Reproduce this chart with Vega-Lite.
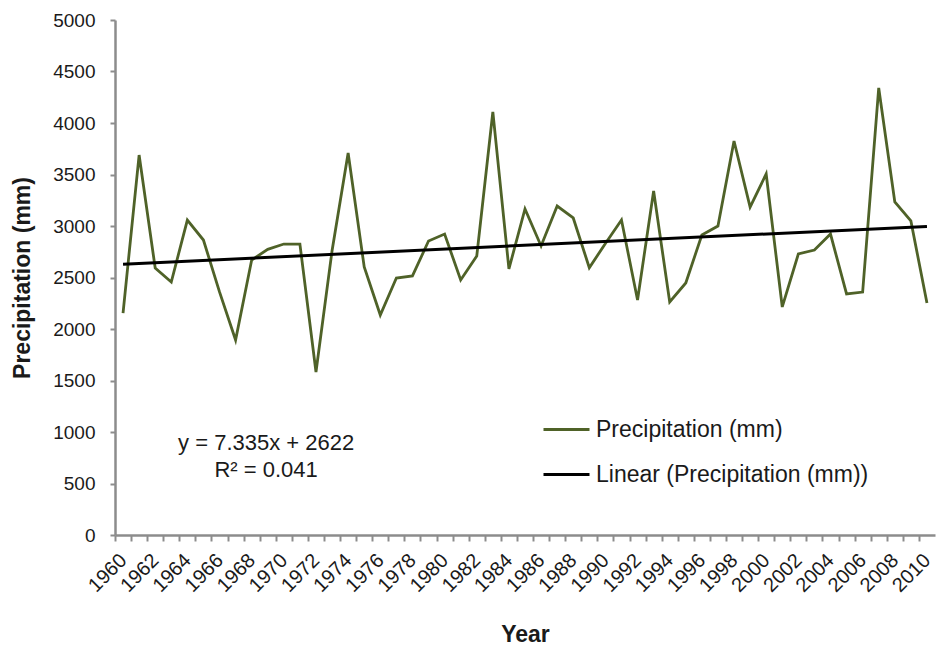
{
  "$schema": "https://vega.github.io/schema/vega-lite/v6.json",
  "width": 820,
  "height": 515,
  "autosize": {"type": "none"},
  "padding": {"left": 115, "top": 20, "right": 1, "bottom": 116},
  "background": "white",
  "config": {"view": {"stroke": null}, "font": "Liberation Sans"},
  "datasets": {
    "precip": [
      {"year": 1960, "value": 2155, "series": "Precipitation (mm)"},
      {"year": 1961, "value": 3689, "series": "Precipitation (mm)"},
      {"year": 1962, "value": 2592, "series": "Precipitation (mm)"},
      {"year": 1963, "value": 2456, "series": "Precipitation (mm)"},
      {"year": 1964, "value": 3058, "series": "Precipitation (mm)"},
      {"year": 1965, "value": 2864, "series": "Precipitation (mm)"},
      {"year": 1966, "value": 2360, "series": "Precipitation (mm)"},
      {"year": 1967, "value": 1893, "series": "Precipitation (mm)"},
      {"year": 1968, "value": 2670, "series": "Precipitation (mm)"},
      {"year": 1969, "value": 2773, "series": "Precipitation (mm)"},
      {"year": 1970, "value": 2825, "series": "Precipitation (mm)"},
      {"year": 1971, "value": 2825, "series": "Precipitation (mm)"},
      {"year": 1972, "value": 1583, "series": "Precipitation (mm)"},
      {"year": 1973, "value": 2760, "series": "Precipitation (mm)"},
      {"year": 1974, "value": 3709, "series": "Precipitation (mm)"},
      {"year": 1975, "value": 2602, "series": "Precipitation (mm)"},
      {"year": 1976, "value": 2136, "series": "Precipitation (mm)"},
      {"year": 1977, "value": 2495, "series": "Precipitation (mm)"},
      {"year": 1978, "value": 2515, "series": "Precipitation (mm)"},
      {"year": 1979, "value": 2854, "series": "Precipitation (mm)"},
      {"year": 1980, "value": 2922, "series": "Precipitation (mm)"},
      {"year": 1981, "value": 2476, "series": "Precipitation (mm)"},
      {"year": 1982, "value": 2709, "series": "Precipitation (mm)"},
      {"year": 1983, "value": 4107, "series": "Precipitation (mm)"},
      {"year": 1984, "value": 2583, "series": "Precipitation (mm)"},
      {"year": 1985, "value": 3165, "series": "Precipitation (mm)"},
      {"year": 1986, "value": 2806, "series": "Precipitation (mm)"},
      {"year": 1987, "value": 3194, "series": "Precipitation (mm)"},
      {"year": 1988, "value": 3078, "series": "Precipitation (mm)"},
      {"year": 1989, "value": 2595, "series": "Precipitation (mm)"},
      {"year": 1990, "value": 2830, "series": "Precipitation (mm)"},
      {"year": 1991, "value": 3058, "series": "Precipitation (mm)"},
      {"year": 1992, "value": 2282, "series": "Precipitation (mm)"},
      {"year": 1993, "value": 3340, "series": "Precipitation (mm)"},
      {"year": 1994, "value": 2262, "series": "Precipitation (mm)"},
      {"year": 1995, "value": 2447, "series": "Precipitation (mm)"},
      {"year": 1996, "value": 2913, "series": "Precipitation (mm)"},
      {"year": 1997, "value": 3000, "series": "Precipitation (mm)"},
      {"year": 1998, "value": 3825, "series": "Precipitation (mm)"},
      {"year": 1999, "value": 3184, "series": "Precipitation (mm)"},
      {"year": 2000, "value": 3505, "series": "Precipitation (mm)"},
      {"year": 2001, "value": 2214, "series": "Precipitation (mm)"},
      {"year": 2002, "value": 2728, "series": "Precipitation (mm)"},
      {"year": 2003, "value": 2767, "series": "Precipitation (mm)"},
      {"year": 2004, "value": 2922, "series": "Precipitation (mm)"},
      {"year": 2005, "value": 2340, "series": "Precipitation (mm)"},
      {"year": 2006, "value": 2359, "series": "Precipitation (mm)"},
      {"year": 2007, "value": 4340, "series": "Precipitation (mm)"},
      {"year": 2008, "value": 3233, "series": "Precipitation (mm)"},
      {"year": 2009, "value": 3049, "series": "Precipitation (mm)"},
      {"year": 2010, "value": 2252, "series": "Precipitation (mm)"}
    ],
    "trend": [
      {"year": 1960, "value": 2629, "series": "Linear (Precipitation (mm))"},
      {"year": 2010, "value": 2996, "series": "Linear (Precipitation (mm))"}
    ],
    "note": [
      {"year": 1968.9, "value": 890, "label": "y = 7.335x + 2622|R² = 0.041"}
    ]
  },
  "encoding": {
    "x": {
      "field": "year",
      "type": "quantitative",
      "scale": {"domain": [1959.5, 2010.5], "nice": false, "zero": false},
      "axis": {
        "title": "Year",
        "values": [1960,1961,1962,1963,1964,1965,1966,1967,1968,1969,1970,1971,1972,1973,1974,1975,1976,1977,1978,1979,1980,1981,1982,1983,1984,1985,1986,1987,1988,1989,1990,1991,1992,1993,1994,1995,1996,1997,1998,1999,2000,2001,2002,2003,2004,2005,2006,2007,2008,2009,2010,2011],
        "format": "d",
        "labelExpr": "(datum.value % 2 == 0 && datum.value <= 2010) ? datum.label : ''",
        "tickOffset": -8.04,
        "labelOffset": 8.04,
        "labelAngle": -45,
        "labelAlign": "right",
        "labelBaseline": "middle",
        "labelFontSize": 20,
        "labelColor": "#1a1a1a",
        "labelPadding": 16,
        "labelOverlap": false,
        "labelFlush": false,
        "labelBound": false,
        "tickSize": 6,
        "tickWidth": 2,
        "tickColor": "#8c8c8c",
        "domainColor": "#8c8c8c",
        "domainWidth": 2.5,
        "grid": false,
        "titleFontSize": 23,
        "titleFontWeight": "bold",
        "titleColor": "#1a1a1a",
        "titlePadding": 28
      }
    },
    "y": {
      "field": "value",
      "type": "quantitative",
      "scale": {"domain": [0, 5000], "nice": false},
      "axis": {
        "title": "Precipitation (mm)",
        "values": [0,500,1000,1500,2000,2500,3000,3500,4000,4500,5000],
        "format": "d",
        "labelFontSize": 19,
        "labelColor": "#1a1a1a",
        "labelPadding": 15,
        "tickSize": 5,
        "tickWidth": 2,
        "tickColor": "#8c8c8c",
        "domainColor": "#8c8c8c",
        "domainWidth": 2.5,
        "grid": false,
        "titleFontSize": 23,
        "titleFontWeight": "bold",
        "titleColor": "#1a1a1a",
        "titlePadding": 18
      }
    }
  },
  "layer": [
    {
      "data": {"name": "precip"},
      "mark": {"type": "line", "strokeWidth": 2.8},
      "encoding": {
        "color": {
          "field": "series",
          "type": "nominal",
          "scale": {
            "domain": ["Precipitation (mm)", "Linear (Precipitation (mm))"],
            "range": ["#4f6228", "#000000"]
          },
          "legend": {
            "orient": "none",
            "legendX": 427,
            "legendY": 385,
            "title": null,
            "symbolType": "stroke",
            "symbolSize": 2116,
            "symbolStrokeWidth": 3,
            "labelFontSize": 23,
            "labelColor": "#1a1a1a",
            "labelOffset": 5,
            "labelLimit": 600,
            "rowPadding": 8,
            "padding": 0
          }
        }
      }
    },
    {
      "data": {"name": "trend"},
      "mark": {"type": "line", "strokeWidth": 3},
      "encoding": {
        "color": {
          "field": "series",
          "type": "nominal",
          "scale": {
            "domain": ["Precipitation (mm)", "Linear (Precipitation (mm))"],
            "range": ["#4f6228", "#000000"]
          },
          "legend": {
            "orient": "none",
            "legendX": 427,
            "legendY": 385,
            "title": null,
            "symbolType": "stroke",
            "symbolSize": 2116,
            "symbolStrokeWidth": 3,
            "labelFontSize": 23,
            "labelColor": "#1a1a1a",
            "labelOffset": 5,
            "labelLimit": 600,
            "rowPadding": 8,
            "padding": 0
          }
        }
      }
    },
    {
      "data": {"name": "note"},
      "transform": [{"calculate": "split(datum.label, '|')", "as": "lines"}],
      "mark": {
        "type": "text",
        "fontSize": 22,
        "lineHeight": 27,
        "align": "center",
        "baseline": "middle",
        "color": "#1a1a1a"
      },
      "encoding": {
        "text": {"field": "lines"}
      }
    }
  ]
}
